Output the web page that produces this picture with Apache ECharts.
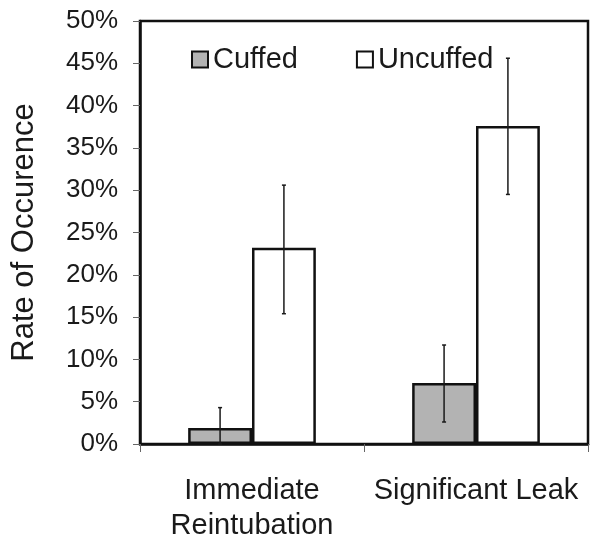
<!DOCTYPE html>
<html>
<head>
<meta charset="utf-8">
<script src="https://cdn.jsdelivr.net/npm/echarts@6/dist/echarts.min.js"></script>
<style>html,body{margin:0;padding:0;background:#fff}#c{width:601px;height:544px}</style>
</head>
<body>
<div id="c"></div>
<script>
var categories = ['Immediate\nReintubation', 'Significant Leak'];
var cuffed = [1.9, 7.2];
var cuffedLow = [0, 2.6];
var cuffedHigh = [4.3, 11.7];
var uncuffed = [23.2, 37.6];
var uncuffedLow = [15.4, 29.5];
var uncuffedHigh = [30.6, 45.6];
var yTicks = [0, 5, 10, 15, 20, 25, 30, 35, 40, 45, 50];

var CAT_GAP = 0.43;
function errData(low, high) {
  return categories.map(function (c, i) { return [i, low[i], high[i]]; });
}
function errRender(side) {
  return function (params, api) {
    var i = api.value(0);
    var band = api.size([1, 0])[0];
    var bw = band * (1 - CAT_GAP) / 2;
    var p1 = api.coord([i, api.value(1)]);
    var p2 = api.coord([i, api.value(2)]);
    var x = p1[0] + side * bw / 2;
    var st = { stroke: '#1a1a1a', lineWidth: 1.5 };
    return {
      type: 'group',
      children: [
        { type: 'line', shape: { x1: x, y1: p1[1], x2: x, y2: p2[1] }, style: st },
        { type: 'line', shape: { x1: x - 2, y1: p1[1], x2: x + 2, y2: p1[1] }, style: st },
        { type: 'line', shape: { x1: x - 2, y1: p2[1], x2: x + 2, y2: p2[1] }, style: st }
      ]
    };
  };
}

var chart = echarts.init(document.getElementById('c'), null, { renderer: 'canvas' });
var font = 'Liberation Sans, Arial, sans-serif';
chart.setOption({
  animation: false,
  backgroundColor: '#fff',
  textStyle: { fontFamily: font, color: '#1a1a1a' },
  grid: { left: 140, right: 13, top: 21, bottom: 100, show: true, borderColor: '#111', borderWidth: 2.5, backgroundColor: 'transparent' },
  legend: {
    data: ['Cuffed', 'Uncuffed'],
    left: 186, top: 40,
    itemWidth: 16, itemHeight: 16, itemGap: 58,
    icon: 'rect',
    textStyle: { fontSize: 29, color: '#1a1a1a', fontFamily: font }
  },
  xAxis: {
    type: 'category',
    data: categories,
    axisLine: { lineStyle: { color: '#111', width: 2.5 } },
    axisTick: { show: true, length: 8, lineStyle: { color: '#666', width: 1 } },
    axisLabel: { interval: 0, fontSize: 29, color: '#1a1a1a', margin: 29, lineHeight: 35, fontFamily: font }
  },
  yAxis: {
    type: 'value',
    min: 0, max: 50, interval: 5,
    name: 'Rate of Occurence',
    nameLocation: 'middle',
    nameGap: 100,
    nameTextStyle: { fontSize: 31, color: '#1a1a1a', fontFamily: font },
    axisLine: { show: true, lineStyle: { color: '#111', width: 2.5 } },
    axisTick: { show: true, length: 7, lineStyle: { color: '#666', width: 1 } },
    splitLine: { show: false },
    axisLabel: {
      fontSize: 26, color: '#1a1a1a', margin: 22, fontFamily: font,
      formatter: function (v) { return yTicks.indexOf(v) >= 0 ? v + '%' : ''; }
    }
  },
  series: [
    {
      name: 'Cuffed', type: 'bar', data: cuffed,
      barGap: '0%', barCategoryGap: (CAT_GAP * 100) + '%',
      itemStyle: { color: '#b3b3b3', borderColor: '#111', borderWidth: 2.5 }
    },
    {
      name: 'Uncuffed', type: 'bar', data: uncuffed,
      barGap: '0%', barCategoryGap: (CAT_GAP * 100) + '%',
      itemStyle: { color: '#ffffff', borderColor: '#111', borderWidth: 2.5 }
    },
    {
      type: 'custom', name: 'errC', data: errData(cuffedLow, cuffedHigh),
      renderItem: errRender(-1), encode: { x: 0, y: [1, 2] }, z: 5
    },
    {
      type: 'custom', name: 'errU', data: errData(uncuffedLow, uncuffedHigh),
      renderItem: errRender(1), encode: { x: 0, y: [1, 2] }, z: 5
    }
  ]
});
</script>
</body>
</html>
